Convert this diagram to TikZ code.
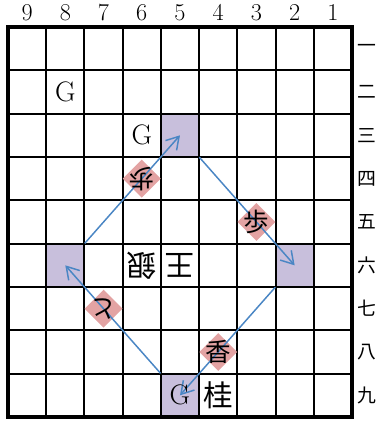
\documentclass[tikz,border=0pt]{standalone}
\usepackage{fontspec}
\newfontfamily\jp{Noto Sans CJK JP}
\usepackage{tikz}
\usetikzlibrary{arrows.meta, positioning}
\definecolor{koma}{HTML}{E3A3A3}
\definecolor{masu}{HTML}{C8BFDC}
\definecolor{yaji}{HTML}{4A86C4}

\begin{document}
\begin{tikzpicture}[
  x=1cm, y=1.1337cm,
  every node/.style={inner sep=0pt},
  target/.style={rectangle, fill=masu, minimum width=1cm, minimum height=1.1337cm},
  komabox/.style={rectangle, rotate=45, fill=koma, minimum size=0.7cm},
  piece/.style={font=\jp\fontsize{22}{22}\selectfont},
  small/.style={font=\jp\fontsize{19}{19}\selectfont},
  gote/.style={rotate=180},
  letter/.style={font=\fontsize{21}{21}\selectfont},
  move/.style={-{Straight Barb[length=9pt,width=11pt]}, yaji, line width=1.1pt},
]
  \useasboundingbox (-0.209,0.623) rectangle (9.681,-9.093);

  \node[target] (s53) at (4.5,-2.5) {};
  \node[target] (s86) at (1.5,-5.5) {};
  \node[target] (s26) at (7.5,-5.5) {};
  \node[target] (s59) at (4.5,-8.5) {};

  \foreach \i in {1,...,8} {
    \draw[line width=1.5pt] (\i,0) -- (\i,-9);
    \draw[line width=1.5pt] (0,-\i) -- (9,-\i);
  }
  \draw[line width=3.5pt] (0,0) rectangle (9,-9);

  \foreach \n [count=\i from 0] in {9,...,1}
    \node[anchor=base, font=\fontsize{18}{18}\selectfont] (col\n) at (\i+0.5,0.16) {\n};
  \foreach \k [count=\j] in {一,二,三,四,五,六,七,八,九}
    \node[font=\jp\fontsize{14}{14}\selectfont] (row\j) at (9.38,-\j+0.5) {\k};

  \node[komabox] (d64) at (3.5,-3.5) {};
  \node[komabox] (d35) at (6.5,-4.5) {};
  \node[komabox] (d77) at (2.5,-6.5) {};
  \node[komabox] (d48) at (5.5,-7.5) {};

  \draw[move] (s86.north east) -- (s53.center);
  \draw[move] (s53.south east) -- (s26.center);
  \draw[move] (s26.south west) -- (s59.center);
  \draw[move] (s59.north west) -- (s86.center);

  \node[letter] (g82) at (1.5,-1.5) {G};
  \node[letter] (g63) at (3.5,-2.5) {G};
  \node[letter] (g59) at (4.5,-8.5) {G};
  \node[small, gote] (p64) at (3.5,-3.5) {歩};
  \node[small] (p35) at (6.5,-4.5) {歩};
  \node[small, gote] (p77) at (2.5,-6.5) {と};
  \node[small] (p48) at (5.5,-7.5) {香};
  \node[piece, gote] (p66) at (3.5,-5.5) {銀};
  \node[piece, gote] (p56) at (4.5,-5.5) {王};
  \node[piece] (p49) at (5.5,-8.5) {桂};
\end{tikzpicture}
\end{document}
